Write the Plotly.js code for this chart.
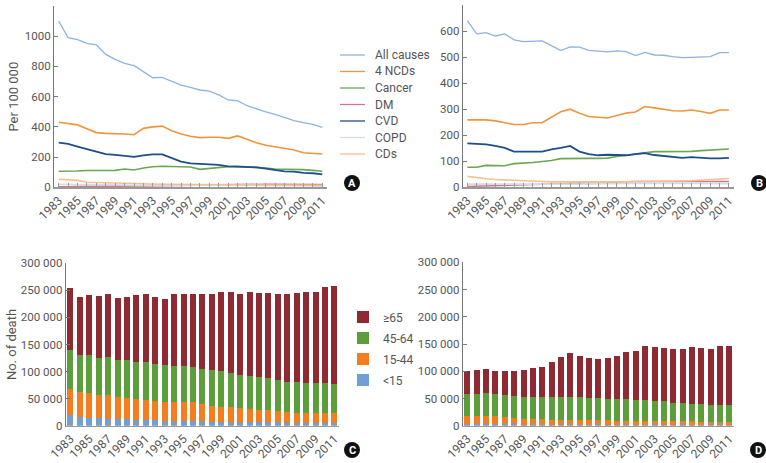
<!DOCTYPE html>
<html><head><meta charset="utf-8">
<script src="https://cdn.plot.ly/plotly-3.0.1.min.js"></script>
<style>html,body{margin:0;padding:0;background:#fff}#chart{width:766px;height:463px}</style>
</head><body><div id="chart"></div>
<script>
// ---------- DATA ----------
const years = [1983,1984,1985,1986,1987,1988,1989,1990,1991,1992,1993,1994,1995,1996,1997,1998,1999,2000,2001,2002,2003,2004,2005,2006,2007,2008,2009,2010,2011];
const causeNames = ['All causes','4 NCDs','Cancer','DM','CVD','COPD','CDs'];
const ageNames = ['<15','15-44','45-64','≥65'];

// Panel A (Per 100 000)
const aAllCauses = [1100,990,978,952,942,880,847,820,805,765,725,728,700,677,661,644,637,612,578,573,540,518,500,483,463,441,428,417,397];
const aNcds      = [430,423,413,388,362,357,356,353,348,390,400,405,374,353,338,329,331,331,324,340,318,295,278,269,258,247,229,225,220];
const aCancer    = [106,106,108,111,112,112,112,121,115,128,136,139,137,137,134,119,126,132,137,139,137,132,128,121,119,119,117,112,106];
const aDm        = [3,4,5,5,5,6,7,8,9,10,12,13,14,15,16,16,17,17,18,19,19,20,20,20,19,19,18,18,18];
const aCvd       = [295,287,270,252,236,220,214,209,201,212,218,218,192,170,158,154,152,148,139,137,137,132,123,112,106,104,95,93,86];
const aCopd      = [20,20,19,18,17,16,15,15,14,14,14,13,13,13,13,13,12,12,13,14,22,14,12,11,10,10,9,9,9];
const aCds       = [53,48,46,33,31,29,27,24,22,22,21,20,20,19,18,18,17,17,17,16,16,15,15,15,14,14,13,13,13];

// Panel B (Per 100 000)
const bAllCauses = [640,589,594,581,589,566,559,561,562,544,525,539,538,526,522,520,524,521,506,518,508,507,502,498,499,500,502,517,517];
const bNcds      = [259,259,259,255,247,241,241,248,248,270,290,300,284,272,269,266,276,285,289,310,305,300,294,293,297,291,284,297,297];
const bCancer    = [77,77,84,84,83,91,92,95,99,103,110,111,111,111,111,112,118,123,128,133,137,137,137,137,138,141,143,147,147];
const bDm        = [3,4,5,6,7,8,9,11,13,14,15,16,16,15,15,17,20,22,22,22,22,22,21,21,20,20,21,21,22];
const bCvd       = [169,166,165,159,151,137,137,137,137,146,151,159,137,127,123,125,124,123,127,131,124,120,116,113,116,113,111,111,113];
const bCopd      = [12,12,11,11,11,10,10,10,10,10,11,11,12,13,13,13,14,15,16,16,16,15,15,15,14,14,14,14,14];
const bCds       = [42,37,33,30,28,27,25,23,22,21,21,20,20,19,19,19,20,21,22,22,22,22,23,24,25,27,29,31,34];

// Panel C (No. of death)
const cUnder15 = [19700,16600,14800,13500,13000,12300,11700,10500,9900,9900,9200,8600,8600,8000,8000,7400,7400,7000,7000,6800,6500,6200,6000,5800,5500,5300,5200,5000,5000];
const c15to44  = [47400,46200,44900,43200,43700,40000,38800,38800,36900,35700,35100,35700,34500,35700,32600,28900,27700,26900,25600,24600,23100,22100,20500,19400,18500,18100,18800,19000,17800];
const c45to64  = [72700,67700,70800,68900,70800,69000,70800,68900,70200,67700,67200,66500,67700,64700,64100,65900,65300,63400,61000,59700,60300,59800,58500,55500,56100,54800,54200,54200,54700];
const c65plus  = [115200,107200,110900,113900,115700,114600,116400,123800,126900,123800,123100,132400,133100,134200,138500,141000,145900,149000,149000,155200,155200,157000,158200,162500,164400,168100,169300,177400,181100];

// Panel D (No. of death)
const dUnder15 = [3200,3000,2800,2600,2400,2200,2000,1800,1700,1600,1500,1400,1300,1200,1200,1100,1100,1000,1000,1000,900,900,900,800,800,800,800,700,700];
const d15to44  = [15200,15400,14900,15100,12900,11900,10900,9800,9900,8800,8900,9000,9100,8600,8600,8700,8400,8500,8200,8000,7900,7600,7400,7200,7000,6800,6600,6600,6600];
const d45to64  = [40400,40400,41700,40400,41000,40400,40300,41600,41600,42800,42200,42800,42200,41600,41000,39200,38800,38800,37900,38100,37100,36800,33900,33600,32600,31600,30500,30000,30000];
const d65plus  = [41600,43400,44600,42900,44100,45900,48400,52100,54500,64300,74100,79600,75300,72800,72200,75200,79600,87000,90600,99200,99100,97900,97900,98500,104000,104000,103500,109000,109000];

const panelLetters = ['A','B','C','D'];

// ---------- STYLE ----------
const FONT = 'Roboto, "Liberation Sans", sans-serif';
const TXT = '#555';
const causeColors = ['#8fb3df','#f0953e','#6aa84f','#d0788a','#1f4e8c','#d3dde8','#f6bf8e'];
const causeWidths = [1.3,1.6,1.6,1.6,1.8,1.6,1.6];
const ageColors = ['#6f9fd8','#f47d20','#5c9e3c','#902a32'];

const W = 766, H = 463;
const px = v => v / W;
const py = v => 1 - v / H;

const aSeries = [aAllCauses,aNcds,aCancer,aDm,aCvd,aCopd,aCds];
const bSeries = [bAllCauses,bNcds,bCancer,bDm,bCvd,bCopd,bCds];
const cSeries = [cUnder15,c15to44,c45to64,c65plus];
const dSeries = [dUnder15,d15to44,d45to64,d65plus];

const traces = [];
aSeries.forEach((s,i)=>traces.push({x:years,y:s,type:'scatter',mode:'lines',name:causeNames[i],
  line:{color:causeColors[i],width:causeWidths[i]},xaxis:'x',yaxis:'y',showlegend:false}));
bSeries.forEach((s,i)=>traces.push({x:years,y:s,type:'scatter',mode:'lines',name:causeNames[i],
  line:{color:causeColors[i],width:causeWidths[i]},xaxis:'x2',yaxis:'y2',showlegend:false}));
cSeries.forEach((s,i)=>traces.push({x:years,y:s,type:'bar',name:ageNames[i],legendgroup:'g'+i,
  legendrank:100-i,
  marker:{color:ageColors[i],line:{width:0}},xaxis:'x3',yaxis:'y3',showlegend:true}));
dSeries.forEach((s,i)=>traces.push({x:years,y:s,type:'bar',name:ageNames[i],legendgroup:'g'+i,
  legendrank:100-i,
  marker:{color:ageColors[i],line:{width:0}},xaxis:'x4',yaxis:'y4',showlegend:false}));

const tickFont = {family:FONT,size:11.5,color:TXT};
function xAx(domain, anchor){
  return {domain, anchor, range:[1982.5,2011.5], tickmode:'linear', tick0:1983, dtick:2,
    tickangle:-45, ticks:'inside', ticklen:4, tickcolor:'#999', tickwidth:1,
    showline:true, linecolor:'#999', linewidth:1.5, showgrid:false, zeroline:false,
    tickfont:{family:FONT,size:12,color:TXT}, fixedrange:true,
    minor:{tick0:1983, dtick:1, ticks:'inside', ticklen:4, tickcolor:'#999', tickwidth:1, showgrid:false}};
}
function yAx(domain, anchor, range, dtick, title, fmt){
  const o = {domain, anchor, range, dtick, tick0:0, tickmode:'linear', ticks:'inside', ticklen:4,
    tickcolor:'#777', showline:true, linecolor:'#777', linewidth:1, showgrid:false, zeroline:false,
    tickfont:tickFont, fixedrange:true};
  if(fmt) o.tickformat = fmt;
  if(title) o.title = {text:title, font:{family:FONT,size:13,color:TXT}};
  return o;
}

// panel letter badges
const badgeCenters = [[352,183],[759,183],[352,450],[758,450]];
const shapes = badgeCenters.map(c=>({type:'circle',xref:'paper',yref:'paper',
  x0:px(c[0]-8),x1:px(c[0]+8),y0:py(c[1]+8),y1:py(c[1]-8),fillcolor:'#111',line:{width:0}}));
const annotations = badgeCenters.map((c,i)=>({xref:'paper',yref:'paper',x:px(c[0]),y:py(c[1]),
  text:'<b>'+panelLetters[i]+'</b>',showarrow:false,font:{family:FONT,size:11,color:'#fff'},
  xanchor:'center',yanchor:'middle'}));

// legend for panels A/B (cause series), built from the series names and colours
causeNames.forEach((n,i)=>{
  const yy = 55 + 16.5*i;
  shapes.push({type:'line',xref:'paper',yref:'paper',x0:px(340),x1:px(365),y0:py(yy),y1:py(yy),
    line:{color:causeColors[i],width:1.3}});
  annotations.push({xref:'paper',yref:'paper',x:px(373),y:py(yy),text:n,showarrow:false,
    xanchor:'left',yanchor:'middle',font:{family:FONT,size:12,color:TXT}});
});

const layout = {
  width:W, height:H, margin:{l:0,r:0,t:0,b:0}, paper_bgcolor:'#fff', plot_bgcolor:'#fff',
  font:{family:FONT,size:12,color:TXT}, separators:'. ', barmode:'stack', bargap:0.36,
  showlegend:true,
  xaxis: xAx([px(54),px(327)],'y'),
  yaxis: yAx([py(187.3),py(6)],'x',[0,1200],200,'Per 100 000'),
  xaxis2: xAx([px(462.7),px(733.6)],'y2'),
  yaxis2: yAx([py(187.3),py(5)],'x2',[0,700],100,null),
  xaxis3: xAx([px(65.7),px(339.2)],'y3'),
  yaxis3: yAx([py(425.7),py(263.3)],'x3',[0,300000],50000,'No. of death',',d'),
  xaxis4: xAx([px(462.7),px(734.1)],'y4'),
  yaxis4: yAx([py(425.7),py(262.3)],'x4',[0,300000],50000,null,',d'),
  legend:{x:px(343),y:py(302.5),xanchor:'left',yanchor:'top',bgcolor:'rgba(0,0,0,0)',
    font:{family:FONT,size:12,color:TXT},traceorder:'grouped',tracegroupgap:2},
  shapes, annotations
};

Plotly.newPlot('chart', traces, layout, {displayModeBar:false, staticPlot:true});
</script>
</body></html>
